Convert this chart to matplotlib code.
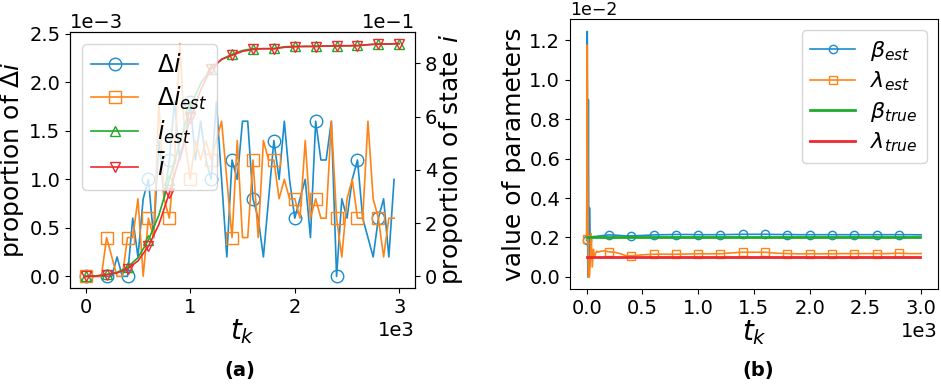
import numpy as np
import matplotlib
matplotlib.use("Agg")
import matplotlib.pyplot as plt

# ---- panel (a) data ----
t_delta = np.arange(0, 3000, 50)
delta_i = [0, 0, 0, 0, 0, 0, 0.2, 0, 0, 0.6, 0.2, 0.8, 1.0, 0.4, 1.4, 0.8, 1.2, 1.8, 1.2, 1.4,
           1.8, 1.2, 1.6, 1.2, 1.0, 1.8, 1.0, 0.2, 1.2, 1.0, 1.6, 1.6, 0.8, 0.6, 0.2, 0.8, 1.4, 1.0, 1.6, 1.0,
           0.6, 0.8, 1.0, 0.4, 1.6, 1.2, 1.2, 1.6, 0.0, 0.8, 0.6, 1.0, 1.2, 0.6, 0.4, 0.2, 0.6, 0.8, 0.2, 1.0]
delta_i_est = [0, 0, 0, 0, 0.4, 0.2, 0, 0, 0.4, 0.4, 0.8, 0, 0.6, 0.4, 1.8, 0.8, 0.6, 1.2, 2.4, 1.4,
               1.0, 1.4, 1.2, 1.4, 1.2, 1.4, 1.6, 1.0, 0.4, 1.4, 0.4, 0.4, 1.2, 0.4, 1.4, 1.2, 1.2, 0.8, 1.0, 0.8,
               0.8, 0.6, 1.4, 0.6, 0.8, 0.6, 0.6, 1.6, 0.6, 0.2, 0.8, 1.0, 0.6, 0.6, 1.6, 0.8, 0.6, 0.2, 0.6, 0.6]
t_state = np.arange(0, 3001, 100)
i_est = [0.00, 0.02, 0.07, 0.15, 0.34, 0.70, 1.36, 2.30, 3.63, 5.00, 6.37, 7.25, 7.80, 8.15, 8.34, 8.48,
         8.55, 8.55, 8.56, 8.62, 8.64, 8.63, 8.64, 8.65, 8.64, 8.66, 8.67, 8.70, 8.73, 8.72, 8.74]
i_bar = [0.00, 0.01, 0.06, 0.13, 0.28, 0.58, 1.13, 1.95, 3.13, 4.50, 5.93, 7.00, 7.80, 8.15, 8.30, 8.45,
         8.52, 8.55, 8.54, 8.60, 8.62, 8.64, 8.63, 8.65, 8.66, 8.66, 8.66, 8.70, 8.72, 8.73, 8.74]

# ---- panel (b) data ----
t_par = [0, 5, 10, 15, 20, 25, 30, 40, 50, 60, 70, 80, 90, 100, 125, 150, 175, 200, 250, 300, 350, 400,
         500, 600, 700, 800, 900, 1000, 1100, 1200, 1300, 1400, 1500, 1600, 1700, 1800, 1900, 2000,
         2100, 2200, 2300, 2400, 2500, 2600, 2700, 2800, 2900, 3000]
beta_est = [0.185, 1.245, 0.0, 0.90, 0.0, 0.35, 0.19, 0.205, 0.20, 0.205, 0.205, 0.205, 0.205, 0.207,
            0.208, 0.21, 0.212, 0.213, 0.212, 0.21, 0.208, 0.208, 0.21, 0.213, 0.214, 0.215, 0.215, 0.214,
            0.214, 0.214, 0.215, 0.216, 0.216, 0.216, 0.215, 0.215, 0.214, 0.214, 0.214, 0.214, 0.214,
            0.214, 0.214, 0.214, 0.214, 0.214, 0.214, 0.213]
lambda_est = [0.19, 1.175, 0.45, 0.0, 0.0, 0.0, 0.05, 0.22, 0.05, 0.14, 0.10, 0.12, 0.13, 0.125,
              0.13, 0.132, 0.13, 0.127, 0.125, 0.118, 0.108, 0.107, 0.112, 0.115, 0.115, 0.115, 0.116,
              0.117, 0.117, 0.117, 0.122, 0.125, 0.125, 0.125, 0.12, 0.118, 0.117, 0.117, 0.117, 0.117,
              0.118, 0.118, 0.118, 0.118, 0.118, 0.12, 0.118, 0.118]
t_true = [0, 2990]
beta_true = [0.002, 0.002]
lambda_true = [0.001, 0.001]

BLUE, ORANGE, GREEN, RED = "#1b8ccc", "#ff8418", "#1faa2a", "#f0282d"
TICK = 14
LAB = 18

fig = plt.figure(figsize=(9.41, 3.84), dpi=100)

# ---------------- (a) ----------------
ax1 = fig.add_axes([0.0744, 0.25, 0.3666, 0.6667])
ax2 = ax1.twinx()
l1, = ax1.plot(t_delta, np.array(delta_i) * 1e-3, color=BLUE, lw=1.2, marker="o", ms=9,
               mfc="none", markevery=4, label=r"$\Delta i$")
l2, = ax1.plot(t_delta, np.array(delta_i_est) * 1e-3, color=ORANGE, lw=1.2, marker="s", ms=9,
               mfc="none", markevery=4, label=r"$\Delta i_{est}$")
l3, = ax2.plot(t_state, np.array(i_est) * 0.1, color=GREEN, lw=1.2, marker="^", ms=7,
               mfc="none", markevery=2, label=r"$i_{est}$")
l4, = ax2.plot(t_state, np.array(i_bar) * 0.1, color=RED, lw=1.2, marker="v", ms=7,
               mfc="none", markevery=2, label=r"$\bar{i}$")

for ax in (ax1, ax2):
    ax.ticklabel_format(style="sci", scilimits=(0, 0), axis="both")
    ax.tick_params(labelsize=TICK)
    ax.yaxis.get_offset_text().set_fontsize(TICK)
    ax.xaxis.get_offset_text().set_fontsize(TICK)
ax1.set_xticks([0, 1000, 2000, 3000])
ax1.set_yticks(np.arange(0, 0.0026, 0.0005))
ax2.set_yticks([0, 0.2, 0.4, 0.6, 0.8])
ax1.set_ylabel(r"proportion of $\Delta i$", fontsize=LAB, labelpad=2)
ax2.set_ylabel(r"proportion of state $i$", fontsize=LAB, labelpad=0)
ax1.set_xlabel(r"$t_k$", fontsize=20, labelpad=0)
ax2.legend(handles=[l1, l2, l3, l4], loc="upper left", fontsize=17, labelspacing=0.3)

# ---------------- (b) ----------------
ax3 = fig.add_axes([0.6057, 0.247, 0.391, 0.703])
marks = [k for k, t in enumerate(t_par) if t % 200 == 0 and t < 3000]
ax3.plot(t_par, np.array(beta_est) * 1e-2, color=BLUE, lw=1.2, marker="o", ms=6,
         mfc="none", markevery=marks, label=r"$\beta_{est}$")
ax3.plot(t_par, np.array(lambda_est) * 1e-2, color=ORANGE, lw=1.2, marker="s", ms=6,
         mfc="none", markevery=marks, label=r"$\lambda_{est}$")
ax3.plot(t_true, beta_true, color=GREEN, lw=2, label=r"$\beta_{true}$")
ax3.plot(t_true, lambda_true, color=RED, lw=2, label=r"$\lambda_{true}$")
ax3.ticklabel_format(style="sci", scilimits=(0, 0), axis="both")
ax3.tick_params(labelsize=TICK)
ax3.yaxis.get_offset_text().set_fontsize(12.5)
ax3.xaxis.get_offset_text().set_fontsize(TICK)
ax3.set_xticks(np.arange(0, 3001, 500))
ax3.set_yticks(np.arange(0, 0.0121, 0.002))
ax3.set_ylabel("value of parameters", fontsize=LAB, labelpad=2)
ax3.set_xlabel(r"$t_k$", fontsize=20, labelpad=0)
ax3.legend(loc="upper right", fontsize=16, labelspacing=0.3, handletextpad=0.7)

fig.text(0.255, 0.02, "(a)", fontsize=14, fontweight="bold", ha="center")
fig.text(0.806, 0.02, "(b)", fontsize=14, fontweight="bold", ha="center")

fig.savefig("out.png", dpi=100)
